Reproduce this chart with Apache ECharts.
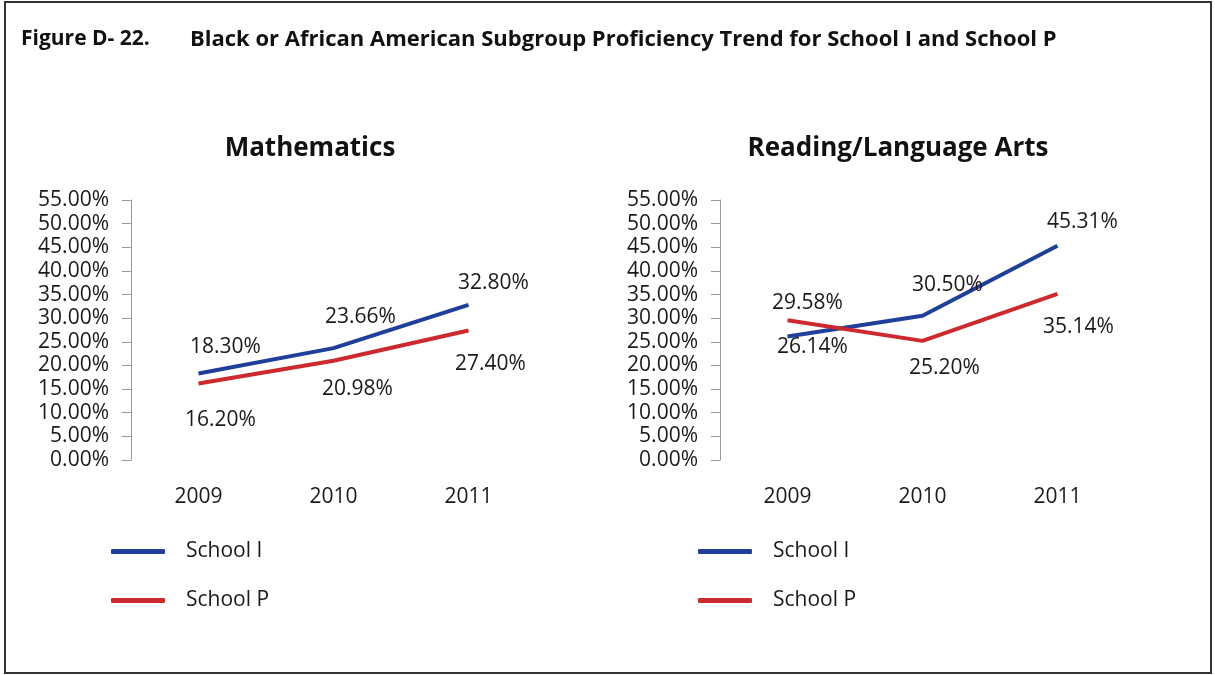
<!DOCTYPE html>
<html>
<head>
<meta charset="utf-8">
<script src="https://cdn.jsdelivr.net/npm/echarts@6/dist/echarts.min.js"></script>
<style>
html,body{margin:0;padding:0;background:#fff;}
#chart{width:1215px;height:675px;}
</style>
</head>
<body>
<div id="chart"></div>
<script>
// ---- data ----
const years = ['2009', '2010', '2011'];
const mathSchoolI = [18.30, 23.66, 32.80];
const mathSchoolP = [16.20, 20.98, 27.40];
const readSchoolI = [26.14, 30.50, 45.31];
const readSchoolP = [29.58, 25.20, 35.14];
const seriesNames = ['School I', 'School P'];
const chartTitles = ['Mathematics', 'Reading/Language Arts'];
const figureLabel = 'Figure D- 22.';
const figureTitle = 'Black or African American Subgroup Proficiency Trend for School I and School P';

// ---- layout / styling (label offsets in px relative to point) ----
const offMathI = [[27, -26], [27, -31], [25, -22]];
const offMathP = [[22, 37], [24, 28], [22, 34]];
const offReadI = [[25, 11], [25, -31], [25, -24]];
const offReadP = [[20, -17], [22, 27], [21, 33]];

const FONT = '"Open Sans", "Noto Sans", sans-serif';
const BLUE = '#1f3f99';
const RED = '#cc2a2f';
const TXT = '#1a1a1a';

function mkData(vals, offs) {
  return vals.map((v, i) => ({
    value: v,
    label: { offset: offs[i] }
  }));
}

function mkSeries(name, vals, offs, idx, color) {
  return {
    name: name,
    type: 'line',
    xAxisIndex: idx,
    yAxisIndex: idx,
    data: mkData(vals, offs),
    symbol: 'circle',
    symbolSize: 0.1,
    showSymbol: true,
    lineStyle: { color: color, width: 4 },
    itemStyle: { color: color },
    emphasis: { disabled: true },
    label: {
      show: true,
      position: 'inside',
      formatter: p => p.value.toFixed(2) + '%',
      fontFamily: FONT,
      fontSize: 21,
      color: TXT
    },
    animation: false
  };
}

const gridL = { left: 131, top: 200, width: 405, height: 260 };
const gridR = { left: 720, top: 200, width: 405, height: 260 };

function xAx(idx) {
  return {
    type: 'category',
    gridIndex: idx,
    data: years,
    boundaryGap: true,
    axisLine: { show: false },
    axisTick: { show: false },
    axisLabel: { fontFamily: FONT, fontSize: 21, color: TXT, margin: 27 }
  };
}
function yAx(idx) {
  return {
    type: 'value',
    gridIndex: idx,
    min: 0, max: 55, interval: 5,
    axisLine: { show: true, lineStyle: { color: '#999', width: 1 } },
    axisTick: { show: true, length: 9, lineStyle: { color: '#999' } },
    splitLine: { show: false },
    axisLabel: {
      fontFamily: FONT, fontSize: 21, color: TXT, margin: 22,
      formatter: v => v.toFixed(2) + '%'
    }
  };
}

const legendBase = {
  orient: 'vertical',
  icon: 'roundRect',
  itemWidth: 54,
  itemHeight: 5,
  itemGap: 28,
  textStyle: { fontFamily: FONT, fontSize: 21, color: TXT, padding: [0, 0, 0, 16] },
  data: seriesNames,
  selectedMode: false
};

const chart = echarts.init(document.getElementById('chart'), null, { renderer: 'canvas' });
chart.setOption({
  backgroundColor: '#fff',
  animation: false,
  title: [
    { text: chartTitles[0], left: 305, top: 131, textAlign: 'center',
      textStyle: { fontFamily: FONT, fontSize: 26, fontWeight: 'bold', color: '#111' } },
    { text: chartTitles[1], left: 893, top: 131, textAlign: 'center',
      textStyle: { fontFamily: FONT, fontSize: 26, fontWeight: 'bold', color: '#111' } }
  ],
  legend: [
    Object.assign({}, legendBase, { left: 106, top: 536 }),
    Object.assign({}, legendBase, { left: 693, top: 536 })
  ],
  grid: [gridL, gridR],
  xAxis: [xAx(0), xAx(1)],
  yAxis: [yAx(0), yAx(1)],
  series: [
    mkSeries(seriesNames[0], mathSchoolI, offMathI, 0, BLUE),
    mkSeries(seriesNames[1], mathSchoolP, offMathP, 0, RED),
    mkSeries(seriesNames[0], readSchoolI, offReadI, 1, BLUE),
    mkSeries(seriesNames[1], readSchoolP, offReadP, 1, RED)
  ],
  graphic: [
    { type: 'rect', shape: { x: 5, y: 2, width: 1206, height: 671 },
      style: { fill: 'none', stroke: '#333', lineWidth: 2 }, z: 10 },
    { type: 'text', left: 21, top: 29,
      style: { text: figureLabel, fontFamily: FONT, fontSize: 21, fontWeight: 'bold', fill: '#111' } },
    { type: 'text', left: 190, top: 29,
      style: { text: figureTitle, fontFamily: FONT, fontSize: 22, fontWeight: 'bold', fill: '#111' } }
  ]
});
</script>
</body>
</html>
